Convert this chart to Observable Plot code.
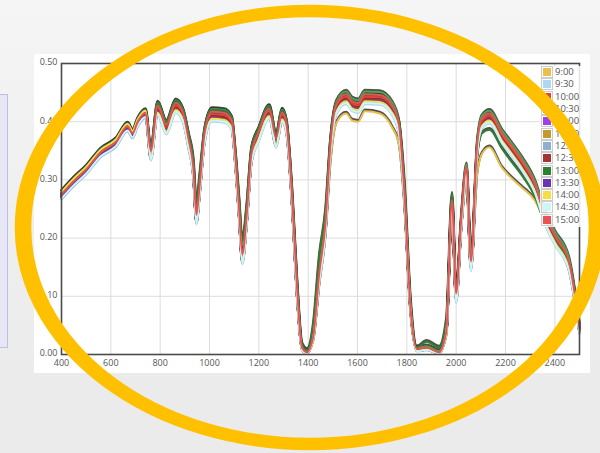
<!DOCTYPE html>
<html><head><meta charset="utf-8">
<script src="https://cdn.jsdelivr.net/npm/d3@7"></script>
<script src="https://cdn.jsdelivr.net/npm/@observablehq/plot@0.6"></script>
<style>
html,body{margin:0;padding:0;width:600px;height:453px;overflow:hidden;font-family:"Open Sans",sans-serif;}
body{background:linear-gradient(#f5f5f5 0px,#f3f3f3 60px,#ebebeb 380px);position:relative;}
#side{position:absolute;left:-10px;top:94px;width:16px;height:252px;border:1px solid #bdbde6;background:#e6e6f7;}
#panel{position:absolute;left:34px;top:54px;width:556px;height:319px;background:#fff;}
#legend{position:absolute;left:540px;top:66px;background:rgba(255,255,255,0.85);padding:0 2px 1px 1px;}
.row{height:12.3px;display:flex;align-items:center;font-size:9.5px;color:#555;line-height:12px;white-space:nowrap;}
.sw{width:8px;height:8px;border:1px solid #ccc;padding:1px;margin-right:2px;box-sizing:content-box;}
.sw div{width:8px;height:8px;}
#ring{position:absolute;left:0;top:0;}
</style></head>
<body>
<div id="side"></div>
<div id="panel"></div>
<div id="legend"></div>
<svg id="ring" width="600" height="453"><g transform="translate(310,227.5) scale(1.3256,1)"><circle r="216.5" fill="none" stroke="#FFC000" stroke-width="12.5"/></g></svg>
<script>
const wavelengths = [400,450,500,560,620,668,688,709,741,762,790,825,863,892,915,935,947,960,980,1010,1060,1090,1105,1120,1133,1150,1170,1200,1242,1270,1294,1312,1335,1355,1375,1395,1420,1445,1470,1490,1515,1554,1578,1603,1630,1690,1740,1768,1790,1815,1840,1880,1930,1960,1983,2000,2020,2042,2060,2085,2105,2135,2185,2217,2266,2318,2360,2400,2457,2500];
const times = ["9:00","9:30","10:00","10:30","11:00","11:30","12:00","12:30","13:00","13:30","14:00","14:30","15:00"];
const colors = ["#e9c04e","#afd6f6","#e2433f","#4ea64e","#9b42f0","#c29a32","#8fb0cf","#a33434","#2f7f33","#6a34b3","#f6de41","#cff6f6","#e55353"];

const s0900 = [.268,.290,.310,.340,.357,.384,.372,.392,.407,.342,.418,.385,.420,.404,.358,.305,.226,.278,.368,.405,.403,.390,.328,.238,.160,.222,.330,.370,.408,.358,.402,.382,.255,.100,.008,.002,.022,.120,.205,.330,.398,.414,.402,.400,.418,.414,.390,.360,.258,.070,.008,.008,.002,.032,.255,.100,.215,.295,.150,.310,.345,.356,.321,.306,.287,.265,.230,.198,.150,.040];
const s0930 = [.266,.289,.309,.339,.356,.383,.371,.391,.406,.333,.411,.378,.415,.399,.353,.301,.223,.273,.363,.400,.398,.385,.323,.233,.155,.218,.328,.366,.405,.355,.399,.379,.253,.098,.007,.002,.025,.123,.208,.343,.413,.430,.418,.415,.430,.429,.411,.378,.263,.075,.005,.007,.002,.035,.248,.088,.213,.305,.143,.343,.388,.397,.363,.345,.316,.277,.223,.188,.143,.035];
const s1000 = [.273,.296,.316,.346,.363,.390,.378,.398,.413,.346,.424,.391,.428,.412,.366,.314,.236,.286,.376,.413,.411,.398,.336,.246,.168,.231,.341,.379,.418,.368,.412,.392,.266,.111,.010,.002,.028,.136,.221,.356,.426,.443,.431,.428,.443,.442,.424,.391,.276,.078,.008,.010,.002,.038,.261,.101,.226,.318,.156,.356,.401,.410,.376,.358,.329,.290,.236,.201,.156,.042];
const s1030 = [.280,.303,.323,.353,.370,.397,.385,.405,.420,.356,.433,.400,.437,.421,.377,.326,.252,.298,.386,.422,.420,.407,.346,.260,.188,.246,.352,.389,.427,.377,.421,.401,.277,.122,.014,.006,.034,.150,.233,.366,.435,.452,.440,.437,.452,.451,.433,.400,.285,.085,.012,.014,.006,.044,.270,.108,.234,.327,.164,.365,.410,.419,.385,.367,.338,.299,.246,.211,.166,.050];
const s1100 = [.269,.292,.312,.342,.359,.386,.374,.394,.409,.337,.415,.382,.419,.403,.357,.305,.227,.277,.367,.404,.402,.389,.327,.237,.159,.222,.332,.370,.409,.359,.403,.383,.257,.102,.008,.002,.026,.127,.212,.347,.417,.434,.422,.419,.434,.433,.415,.382,.267,.076,.006,.008,.002,.036,.252,.092,.217,.309,.147,.347,.392,.401,.367,.349,.320,.281,.227,.192,.147,.037];
const s1130 = [.269,.292,.312,.342,.359,.386,.374,.394,.409,.340,.418,.385,.422,.406,.360,.308,.230,.280,.370,.407,.405,.392,.330,.240,.162,.225,.335,.373,.412,.362,.406,.386,.260,.105,.008,.002,.026,.130,.215,.350,.420,.437,.425,.422,.437,.436,.418,.385,.270,.076,.006,.008,.002,.036,.255,.095,.220,.312,.150,.350,.395,.404,.370,.352,.323,.284,.230,.195,.150,.038];
const s1200 = [.267,.290,.310,.340,.357,.384,.372,.392,.407,.336,.414,.381,.418,.402,.356,.304,.226,.276,.366,.403,.401,.388,.326,.236,.158,.221,.331,.369,.408,.358,.402,.382,.256,.101,.008,.002,.026,.126,.211,.346,.416,.433,.421,.418,.433,.432,.414,.381,.266,.076,.006,.008,.002,.036,.251,.091,.216,.308,.146,.346,.391,.400,.366,.348,.319,.280,.226,.191,.146,.036];
const s1230 = [.271,.294,.314,.344,.361,.388,.376,.396,.411,.342,.420,.387,.424,.408,.362,.310,.232,.282,.372,.409,.407,.394,.332,.242,.164,.227,.337,.375,.414,.364,.408,.388,.262,.107,.009,.002,.027,.132,.217,.352,.422,.439,.427,.424,.439,.438,.420,.387,.272,.077,.007,.009,.002,.037,.257,.097,.222,.314,.152,.352,.397,.406,.372,.354,.325,.286,.232,.197,.152,.040];
const s1300 = [.275,.298,.318,.348,.365,.392,.380,.400,.415,.354,.432,.399,.436,.420,.378,.333,.260,.308,.386,.421,.419,.406,.348,.268,.196,.253,.353,.388,.426,.378,.420,.400,.280,.126,.018,.008,.050,.170,.248,.368,.432,.447,.436,.433,.447,.446,.428,.398,.298,.095,.012,.022,.012,.060,.276,.110,.225,.315,.150,.340,.380,.386,.354,.335,.308,.272,.225,.195,.158,.050];
const s1330 = [.270,.293,.313,.343,.360,.387,.375,.395,.410,.339,.417,.384,.421,.405,.359,.307,.229,.279,.369,.406,.404,.391,.329,.239,.161,.224,.334,.372,.411,.361,.405,.385,.259,.104,.008,.002,.026,.129,.214,.349,.419,.436,.424,.421,.436,.435,.417,.384,.269,.076,.006,.008,.002,.036,.254,.094,.219,.311,.149,.349,.394,.403,.369,.351,.322,.283,.229,.194,.149,.038];
const s1400 = [.279,.302,.322,.352,.369,.396,.384,.404,.419,.338,.416,.383,.420,.404,.358,.306,.228,.278,.368,.405,.403,.390,.328,.238,.160,.223,.333,.371,.410,.360,.404,.384,.258,.103,.008,.002,.026,.128,.213,.348,.418,.435,.423,.420,.435,.434,.416,.383,.268,.076,.006,.008,.002,.036,.253,.093,.218,.310,.148,.348,.393,.402,.368,.350,.321,.282,.228,.193,.148,.037];
const s1430 = [.268,.291,.311,.341,.358,.385,.373,.393,.408,.335,.413,.380,.417,.401,.355,.303,.225,.275,.365,.402,.400,.387,.325,.235,.157,.220,.330,.368,.407,.357,.401,.381,.255,.100,.008,.002,.026,.125,.210,.345,.415,.432,.420,.417,.432,.431,.413,.380,.265,.076,.006,.008,.002,.036,.250,.090,.215,.307,.145,.345,.390,.399,.365,.347,.318,.279,.225,.190,.145,.036];
const s1500 = [.275,.298,.318,.348,.365,.392,.380,.400,.415,.350,.428,.395,.432,.416,.370,.318,.240,.290,.380,.417,.415,.402,.340,.250,.172,.235,.345,.383,.422,.372,.416,.396,.270,.115,.012,.004,.030,.140,.225,.360,.430,.447,.435,.432,.447,.446,.428,.395,.280,.080,.010,.012,.004,.040,.265,.105,.230,.322,.160,.360,.405,.414,.380,.362,.333,.294,.240,.205,.160,.045];

const seriesValues = [s0900,s0930,s1000,s1030,s1100,s1130,s1200,s1230,s1300,s1330,s1400,s1430,s1500];
const xTicks = [400,600,800,1000,1200,1400,1600,1800,2000,2200,2400];
const yTicks = [0,0.1,0.2,0.3,0.4,0.5];

const rows = [];
times.forEach((t,i)=>wavelengths.forEach((w,j)=>rows.push({time:t, wl:w, r:seriesValues[i][j]})));

const chart = Plot.plot({
  width:556, height:319,
  marginLeft:27, marginRight:11, marginTop:9, marginBottom:19,
  style:{fontFamily:"'Open Sans',sans-serif", fontSize:"9px", color:"#555", background:"transparent", overflow:"visible"},
  x:{domain:[400,2500]},
  y:{domain:[0,0.5]},
  color:{domain:times, range:colors},
  marks:[
    Plot.gridX(xTicks,{stroke:"#dcdcdc", strokeOpacity:1}),
    Plot.gridY(yTicks,{stroke:"#dcdcdc", strokeOpacity:1}),
    Plot.line(rows,{x:"wl", y:"r", z:"time", stroke:"#333", strokeWidth:2.5, strokeOpacity:0.85, dy:-1.5, curve:"monotone-x"}),
    Plot.line(rows,{x:"wl", y:"r", z:"time", stroke:"time", strokeWidth:2, curve:"monotone-x"}),
    Plot.frame({stroke:"#4a4a4a", strokeWidth:1.6}),
    Plot.axisX(xTicks,{tickSize:0, tickPadding:5, label:null, tickFormat:d3.format("d"), fill:"#555"}),
    Plot.axisY(yTicks,{tickSize:0, tickPadding:4, label:null, tickFormat:d3.format(".2f"), fill:"#555", dy:-1})
  ]
});
document.getElementById("panel").appendChild(chart);

const leg = document.getElementById("legend");
times.forEach((t,i)=>{
  const r = document.createElement("div"); r.className="row";
  const sw = document.createElement("div"); sw.className="sw";
  const c = document.createElement("div"); c.style.background=colors[i];
  sw.appendChild(c); r.appendChild(sw);
  const tx = document.createElement("span"); tx.textContent=t; r.appendChild(tx);
  leg.appendChild(r);
});
</script>
</body></html>
